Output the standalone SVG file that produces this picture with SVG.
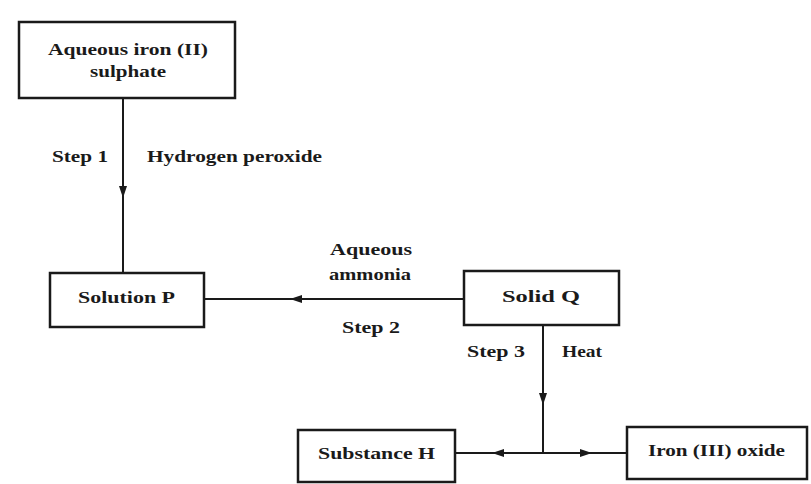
<svg xmlns="http://www.w3.org/2000/svg" width="811" height="484" viewBox="0 0 811 484">
<style>
.box{fill:none;stroke:#1a1a1a;stroke-width:2.5}
.t{font-family:"Liberation Serif","Times New Roman",serif;font-weight:bold;font-size:16px;fill:#1a1a1a}
.c{fill:none;stroke:#1a1a1a;stroke-width:2}
</style>
<defs>
<marker id="ah" markerWidth="14" markerHeight="10" refX="12" refY="5" orient="auto" markerUnits="userSpaceOnUse">
<path d="M0,1 L12,5 L0,9 Z" fill="#1a1a1a"/>
</marker>
</defs>
<rect width="811" height="484" fill="#fff"/>
<g id="connectors">
<path class="c" d="M123,99 V198 V273" marker-mid="url(#ah)"/>
<path class="c" d="M464,299 H290 H204" marker-mid="url(#ah)"/>
<path class="c" d="M543,325 V405 V453" marker-mid="url(#ah)"/>
<path class="c" d="M543,453 H492 H455" marker-mid="url(#ah)"/>
<path class="c" d="M543,453 H592 H627" marker-mid="url(#ah)"/>
</g>
<g id="labels">
<text class="t" x="52" y="162" textLength="56" lengthAdjust="spacingAndGlyphs">Step 1</text>
<text class="t" x="147" y="162" textLength="175" lengthAdjust="spacingAndGlyphs">Hydrogen peroxide</text>
<text class="t" x="330" y="255" textLength="82" lengthAdjust="spacingAndGlyphs">Aqueous</text>
<text class="t" x="329" y="280" textLength="82" lengthAdjust="spacingAndGlyphs">ammonia</text>
<text class="t" x="342" y="333" textLength="58" lengthAdjust="spacingAndGlyphs">Step 2</text>
<text class="t" x="467" y="357" textLength="58" lengthAdjust="spacingAndGlyphs">Step 3</text>
<text class="t" x="562" y="357" textLength="40" lengthAdjust="spacingAndGlyphs">Heat</text>
</g>
<g id="node-iron-ii-sulphate">
<rect class="box" x="19" y="22" width="216" height="76"/>
<text class="t" x="48" y="55" textLength="160" lengthAdjust="spacingAndGlyphs">Aqueous iron (II)</text>
<text class="t" x="90" y="77" textLength="76" lengthAdjust="spacingAndGlyphs">sulphate</text>
</g>
<g id="node-solution-p">
<rect class="box" x="50" y="273" width="154" height="54"/>
<text class="t" x="78" y="303" textLength="97" lengthAdjust="spacingAndGlyphs">Solution P</text>
</g>
<g id="node-solid-q">
<rect class="box" x="464" y="271" width="155" height="54"/>
<text class="t" x="502" y="302" textLength="78" lengthAdjust="spacingAndGlyphs">Solid  Q</text>
</g>
<g id="node-substance-h">
<rect class="box" x="298" y="430" width="157" height="52"/>
<text class="t" x="318" y="459" textLength="117" lengthAdjust="spacingAndGlyphs">Substance H</text>
</g>
<g id="node-iron-iii-oxide">
<rect class="box" x="627" y="427" width="180" height="52"/>
<text class="t" x="648" y="456" textLength="137" lengthAdjust="spacingAndGlyphs">Iron (III) oxide</text>
</g>
</svg>
